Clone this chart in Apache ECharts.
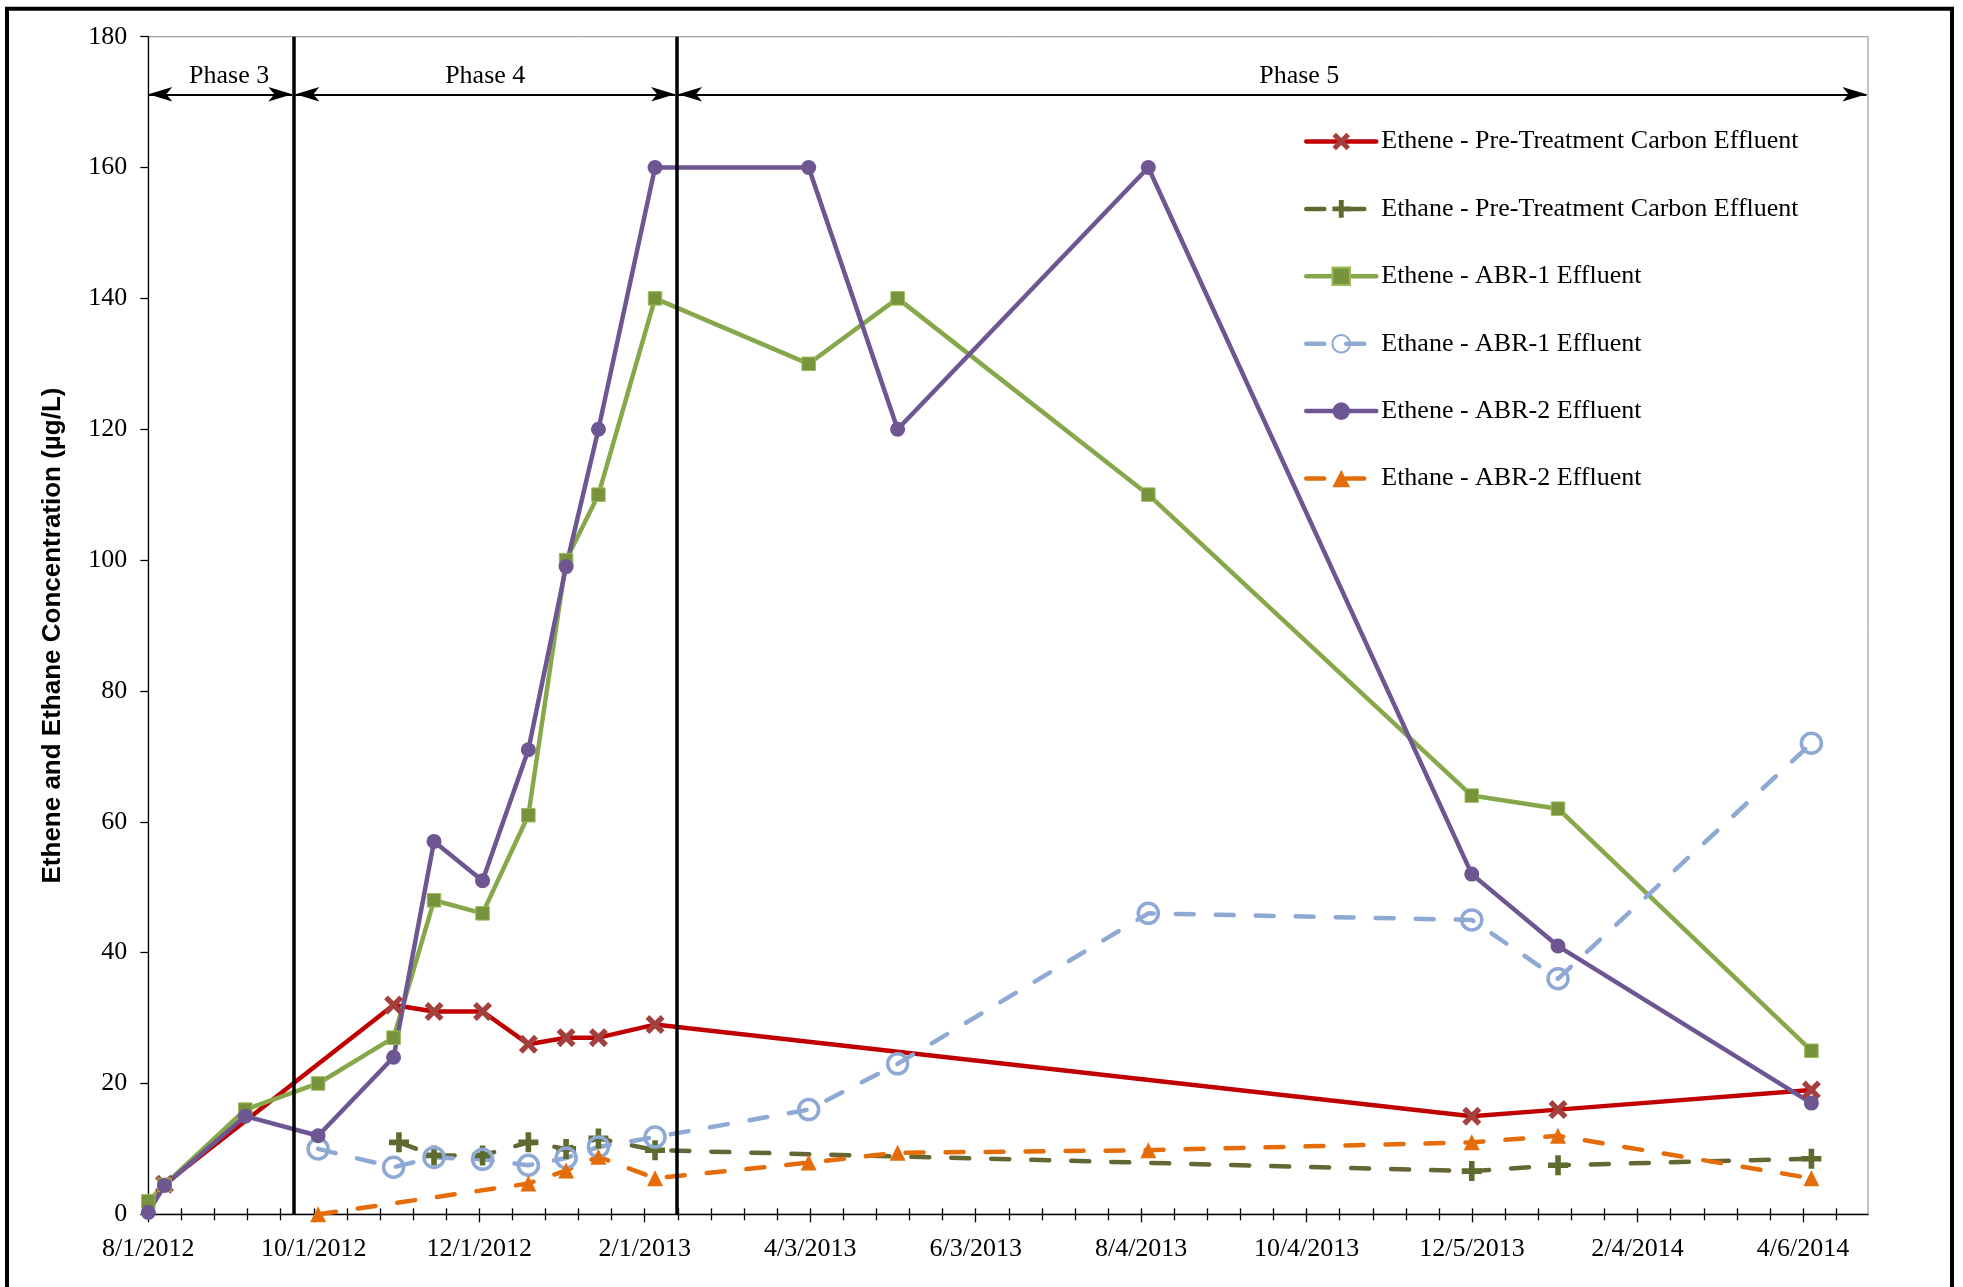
<!DOCTYPE html>
<html>
<head>
<meta charset="utf-8">
<title>Ethene and Ethane Concentrations</title>
<script src="https://cdn.jsdelivr.net/npm/echarts@6/dist/echarts.min.js"></script>
<style>
  html, body { margin: 0; padding: 0; background: #fff; }
  #chart { width: 1963px; height: 1287px; }
</style>
</head>
<body>
<div id="chart"></div>
<script>
// ---- Data ---------------------------------------------------------------
// Sampling dates shared by all series; null = not measured on that date.
const sampleDates = [
  '2012-08-01', '2012-08-07', '2012-09-06', '2012-10-03', '2012-10-31', '2012-11-02',
  '2012-11-15', '2012-12-03', '2012-12-20', '2013-01-03', '2013-01-15', '2013-02-05',
  '2013-04-03', '2013-05-06', '2013-08-07', '2013-12-05', '2014-01-06', '2014-04-10'
];
// Concentrations in µg/L
const etheneCarbon = [null, 4.6, null, null, 32, null, 31, 31, 26, 27, 27, 29, null, null, null, 15, 16, 19];
const ethaneCarbon = [null, null, null, null, null, 11, 9, 9, 11, 10, 11.6, 9.8, null, null, null, 6.6, 7.5, 8.5];
const etheneAbr1   = [2, 4.5, 16, 20, 27, null, 48, 46, 61, 100, 110, 140, 130, 140, 110, 64, 62, 25];
const ethaneAbr1   = [null, null, null, 10, 7.2, null, 8.7, 8.4, 7.5, 8.6, 10.3, 11.8, 16, 23, 46, 45, 36, 72];
const etheneAbr2   = [0.3, 4.4, 15, 12, 24, null, 57, 51, 71, 99, 120, 160, 160, 120, 160, 52, 41, 17];
const ethaneAbr2   = [null, null, null, 0, null, null, null, null, 4.7, 6.7, 8.8, 5.5, 7.9, 9.4, 9.8, 11, 12, 5.5];

const seriesNames = [
  'Ethene - Pre-Treatment Carbon Effluent',
  'Ethane - Pre-Treatment Carbon Effluent',
  'Ethene - ABR-1 Effluent',
  'Ethane - ABR-1 Effluent',
  'Ethene - ABR-2 Effluent',
  'Ethane - ABR-2 Effluent'
];

// Date axis tick labels (one every major step)
const xTickLabels = ['8/1/2012', '10/1/2012', '12/1/2012', '2/1/2013', '4/3/2013', '6/3/2013',
                     '8/4/2013', '10/4/2013', '12/5/2013', '2/4/2014', '4/6/2014'];
const yTicks = [0, 20, 40, 60, 80, 100, 120, 140, 160, 180];

// Treatment phases: boundaries and names
const phaseNames = ['Phase 3', 'Phase 4', 'Phase 5'];
const phaseBoundaries = ['2012-09-24', '2013-02-13'];

// ---- Axis setup ---------------------------------------------------------
const axisStart = '2012-08-01';
const axisEnd = '2014-05-01';
const majorStep = 61.39;          // days between labelled ticks
const minorSplit = 5;

const DAY = 86400000;
function toUTC(s) { const p = s.split('-').map(Number); return Date.UTC(p[0], p[1] - 1, p[2]); }
function dayOf(s) { return (toUTC(s) - toUTC(axisStart)) / DAY; }
const axisMax = dayOf(axisEnd);

const majorTicks = xTickLabels.map((_, i) => +(i * majorStep).toFixed(4));
const minorTicks = [];
for (let k = 1; k * majorStep / minorSplit < axisMax; k++) {
  if (k % minorSplit !== 0) minorTicks.push(+(k * majorStep / minorSplit).toFixed(4));
}
const allTicks = majorTicks.concat(minorTicks);

// ---- Layout -------------------------------------------------------------
const GRID = { left: 148.3, right: 95, top: 36.7, bottom: 72.7 };
const CHART_W = 1963;
const daysPerPx = axisMax / (CHART_W - GRID.left - GRID.right);

// Phase annotation placement (value-axis units)
const phaseArrowY = 171.2;
const phaseLabelY = 173.9;
const phaseLabelDates = ['2012-08-31', '2012-12-04', '2013-10-02'];
const arrowHead = [11, 24];            // arrowhead width / length in px
const arrowGap = 1.5 * daysPerPx;      // small gap between arrow tips and phase edges

// ---- Styling ------------------------------------------------------------
const SERIF = "'Liberation Serif', 'Times New Roman', serif";
const SANS = "'Liberation Sans', Arial, sans-serif";
const xMark = 'path://M2,0 L5,3 L8,0 L10,2 L7,5 L10,8 L8,10 L5,7 L2,10 L0,8 L3,5 L0,2 Z';
const plusMark = 'path://M3.6,0 H6.4 V3.6 H10 V6.4 H6.4 V10 H3.6 V6.4 H0 V3.6 H3.6 Z';
const dash = [18, 22];
const LINE_W = 4.5;

function pairs(values) {
  const out = [];
  sampleDates.forEach((d, i) => { if (values[i] != null) out.push([dayOf(d), values[i]]); });
  return out;
}

function lineSeries(name, values, symbol, size, lineColor, itemStyle, dashed) {
  return {
    name: name,
    type: 'line',
    data: pairs(values),
    symbol: symbol,
    symbolSize: size,
    showAllSymbol: true,
    lineStyle: { color: lineColor, width: LINE_W, type: dashed ? dash : 'solid', cap: 'round', join: 'round' },
    itemStyle: itemStyle,
    emphasis: { disabled: true },
    animation: false
  };
}

const series = [
  lineSeries(seriesNames[0], etheneCarbon, xMark, 19, '#C00000', { color: '#A3403D' }, false),
  lineSeries(seriesNames[1], ethaneCarbon, plusMark, 20, '#646634', { color: '#5E6B2E' }, true),
  lineSeries(seriesNames[2], etheneAbr1, 'rect', 13.5, '#86A84B', { color: '#77933C', borderColor: '#9BBB59', borderWidth: 1 }, false),
  lineSeries(seriesNames[3], ethaneAbr1, 'circle', 20, '#8EA9D3', { color: 'rgba(255,255,255,0)', borderColor: '#8EA9D3', borderWidth: 3.5 }, true),
  lineSeries(seriesNames[4], etheneAbr2, 'circle', 15, '#6E5693', { color: '#6E5693' }, false),
  lineSeries(seriesNames[5], ethaneAbr2, 'triangle', 16, '#E46C0A', { color: '#E46C0A' }, true),
  // Phase boundaries (vertical lines)
  {
    name: 'phaseLines', type: 'line', data: [], silent: true, z: 10, animation: false,
    markLine: {
      silent: true, animation: false, symbol: ['none', 'none'],
      label: { show: false },
      lineStyle: { color: '#000', width: 3.5, type: 'solid' },
      emphasis: { disabled: true },
      data: phaseBoundaries.map(d => [{ coord: [dayOf(d), 0] }, { coord: [dayOf(d), 180] }])
    }
  },
  // Phase extents (double-headed arrows) and names
  {
    name: 'phaseArrows', type: 'line', data: [], silent: true, z: 10, animation: false,
    markLine: {
      silent: true, animation: false,
      symbol: ['arrow', 'arrow'], symbolSize: arrowHead,
      label: { show: false },
      lineStyle: { color: '#000', width: 2, type: 'solid' },
      itemStyle: { color: '#000' },
      emphasis: { disabled: true },
      data: (function () {
        const edges = [0].concat(phaseBoundaries.map(dayOf), [axisMax]);
        return phaseNames.map((_, i) => [
          { coord: [edges[i] + (i === 0 ? 0 : arrowGap), phaseArrowY] },
          { coord: [edges[i + 1] - arrowGap, phaseArrowY] }
        ]);
      })()
    },
    markPoint: {
      silent: true, animation: false,
      symbol: 'rect', symbolSize: 1,
      itemStyle: { color: 'rgba(0,0,0,0)' },
      label: { show: true, position: 'inside', formatter: '{b}', fontFamily: SERIF, fontSize: 26, color: '#000' },
      data: phaseNames.map((n, i) => ({ name: n, coord: [dayOf(phaseLabelDates[i]), phaseLabelY] }))
    }
  }
];

function xLabel(v) {
  const i = Math.round(v / majorStep);
  return Math.abs(v - i * majorStep) < 1e-3 && xTickLabels[i] ? xTickLabels[i] : '';
}

const baseX = { type: 'value', min: 0, max: axisMax, position: 'bottom', gridIndex: 0, splitLine: { show: false } };

const option = {
  backgroundColor: '#fff',
  animation: false,
  textStyle: { fontFamily: SERIF, color: '#000' },
  grid: Object.assign({
    show: true, borderColor: '#8a8a8a', borderWidth: 1,
    containLabel: false, outerBoundsMode: 'none'
  }, GRID),
  legend: {
    orient: 'vertical', left: 1304, top: 126.5, padding: 0,
    itemWidth: 70, itemHeight: 22, itemGap: 37.4,
    data: seriesNames,
    selectedMode: false,
    lineStyle: { width: LINE_W },
    textStyle: { fontFamily: SERIF, fontSize: 26, color: '#000', lineHeight: 30 }
  },
  xAxis: [
    Object.assign({}, baseX, {
      interval: majorStep,
      axisLine: { show: true, lineStyle: { color: '#000', width: 1.3 } },
      axisTick: { show: true, customValues: majorTicks, length: 8, lineStyle: { color: '#000', width: 1.3 } },
      minorTick: { show: false },
      axisLabel: { show: true, customValues: majorTicks, formatter: xLabel, margin: 21.5, fontFamily: SERIF, fontSize: 26, color: '#000' }
    }),
    Object.assign({}, baseX, {
      axisLine: { show: false },
      axisTick: { show: true, customValues: minorTicks, length: 6, lineStyle: { color: '#000', width: 1.3 } },
      axisLabel: { show: false }
    }),
    Object.assign({}, baseX, {
      axisLine: { show: false },
      axisTick: { show: true, inside: true, customValues: allTicks, length: 6, lineStyle: { color: '#000', width: 1.3 } },
      axisLabel: { show: false }
    })
  ],
  yAxis: {
    type: 'value', min: yTicks[0], max: yTicks[yTicks.length - 1], interval: yTicks[1] - yTicks[0],
    name: 'Ethene and Ethane Concentration (µg/L)',
    nameLocation: 'middle', nameRotate: 90, nameGap: 82, nameMoveOverlap: false,
    nameTextStyle: { fontFamily: SANS, fontWeight: 'bold', fontSize: 26, color: '#000', padding: [0, 20, 0, 0] },
    axisLine: { show: true, lineStyle: { color: '#000', width: 1.3 } },
    axisTick: { show: true, length: 8, lineStyle: { color: '#000', width: 1.3 } },
    axisLabel: { margin: 21, fontFamily: SERIF, fontSize: 26, color: '#000' },
    splitLine: { show: false }
  },
  graphic: [{
    type: 'rect', silent: true, z: -1,
    shape: { x: 7, y: 8.7, width: 1945, height: 1290 },
    style: { fill: 'none', stroke: '#000', lineWidth: 4 }
  }],
  series: series
};

const chart = echarts.init(document.getElementById('chart'), null, { renderer: 'canvas' });
chart.setOption(option);
</script>
</body>
</html>
